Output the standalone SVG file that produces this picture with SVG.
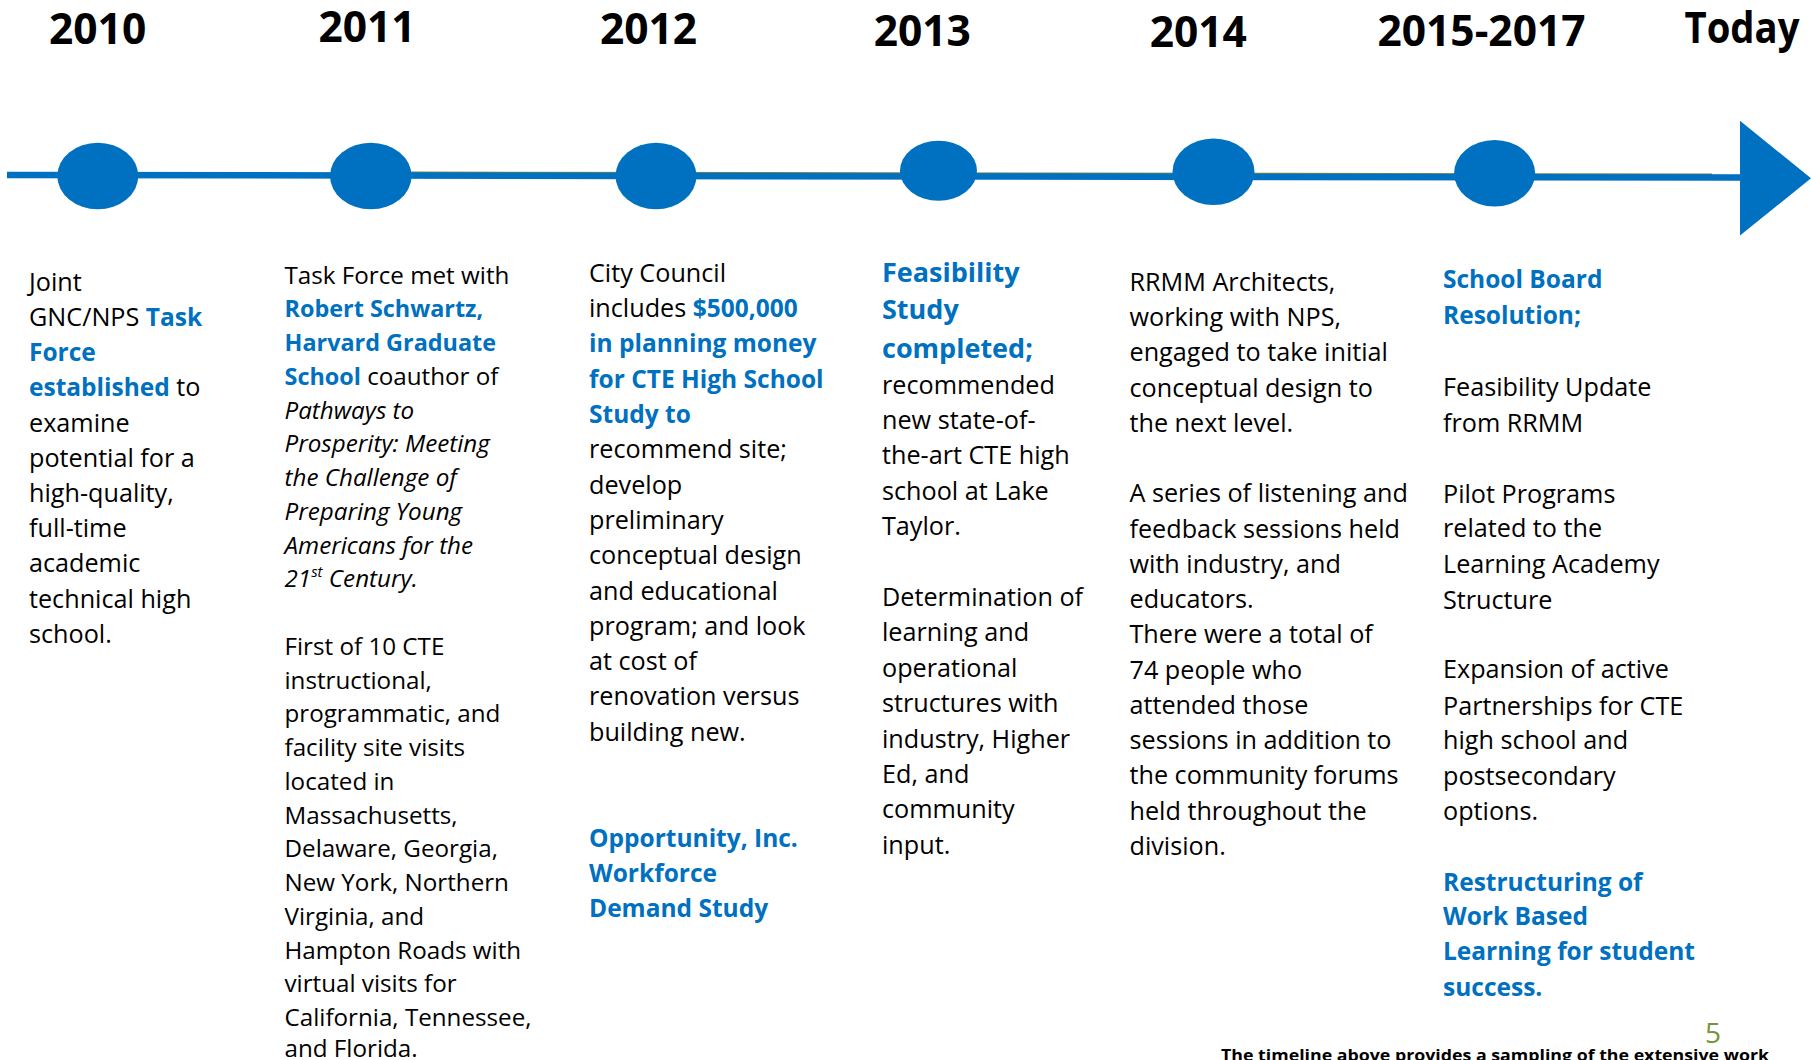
<svg xmlns="http://www.w3.org/2000/svg" width="1811" height="1060" viewBox="0 0 1811 1060">
<style>
text{font-family:"Open Sans","Noto Sans","DejaVu Sans",sans-serif;fill:#000;font-size:25.2px}
.yr{font-weight:700;font-size:42.5px;text-anchor:middle}
.b{font-weight:700;fill:#0070C0;font-size:24.5px}
.c11{font-size:24.2px}
.c11 .b{font-size:23.4px}
.i{font-style:italic}
.h{font-weight:700;fill:#0070C0;font-size:27px}
.dot{fill:#0070C0}
.ft{font-weight:700;font-size:16.6px}
.pg{fill:#77933C;font-size:28px}
</style>
<rect width="1811" height="1060" fill="#fff"/>
<g id="connectors">
<line x1="411" y1="172.4" x2="1712" y2="174.2" stroke="#76843F" stroke-width="1.6"/>
<line x1="7" y1="175" x2="1742" y2="177.6" stroke="#0070C0" stroke-width="6.5"/>
<polygon points="1740,120.7 1811,178.3 1740,235.6" fill="#0070C0"/>
</g>
<g id="m2010">
<ellipse class="dot" cx="97.8" cy="176" rx="40.5" ry="33.3"/>
<text class="yr" x="97.6" y="44">2010</text>
<text x="29" y="290.7">Joint</text>
<text x="29" y="325.9">GNC/NPS <tspan class="b">Task</tspan></text>
<text x="29" y="361.1"><tspan class="b">Force</tspan></text>
<text x="29" y="396.3"><tspan class="b">established</tspan> to</text>
<text x="29" y="431.5">examine</text>
<text x="29" y="466.7">potential for a</text>
<text x="29" y="501.9">high-quality,</text>
<text x="29" y="537.1">full-time</text>
<text x="29" y="572.3">academic</text>
<text x="29" y="607.5">technical high</text>
<text x="29" y="642.7">school.</text>
</g>
<g id="m2011" class="c11">
<ellipse class="dot" cx="370.8" cy="176" rx="40.8" ry="33.3"/>
<text class="yr" x="367" y="41.5">2011</text>
<text class="c11" x="284.5" y="283.6">Task Force met with</text>
<text class="c11" x="284.5" y="317.3"><tspan class="b">Robert Schwartz,</tspan></text>
<text class="c11" x="284.5" y="351"><tspan class="b">Harvard Graduate</tspan></text>
<text class="c11" x="284.5" y="384.8"><tspan class="b">School</tspan> coauthor of</text>
<text class="c11 i" x="284.5" y="418.5">Pathways to</text>
<text class="c11 i" x="284.5" y="452.3">Prosperity: Meeting</text>
<text class="c11 i" x="284.5" y="486">the Challenge of</text>
<text class="c11 i" x="284.5" y="519.8">Preparing Young</text>
<text class="c11 i" x="284.5" y="553.5">Americans for the</text>
<text class="c11 i" x="284.5" y="587.3">21<tspan font-size="15" dy="-10">st</tspan><tspan dy="10"> Century.</tspan></text>
<text class="c11" x="284.5" y="654.8">First of 10 CTE</text>
<text class="c11" x="284.5" y="688.5">instructional,</text>
<text class="c11" x="284.5" y="722.3">programmatic, and</text>
<text class="c11" x="284.5" y="756">facility site visits</text>
<text class="c11" x="284.5" y="789.8">located in</text>
<text class="c11" x="284.5" y="823.5">Massachusetts,</text>
<text class="c11" x="284.5" y="857.3">Delaware, Georgia,</text>
<text class="c11" x="284.5" y="891">New York, Northern</text>
<text class="c11" x="284.5" y="924.8">Virginia, and</text>
<text class="c11" x="284.5" y="958.5">Hampton Roads with</text>
<text class="c11" x="284.5" y="992.3">virtual visits for</text>
<text class="c11" x="284.5" y="1026">California, Tennessee,</text>
<text class="c11" x="284.5" y="1057">and Florida.</text>
</g>
<g id="m2012">
<ellipse class="dot" cx="656" cy="176" rx="40.5" ry="33.3"/>
<text class="yr" x="648.5" y="43.5">2012</text>
<text x="589" y="281.8">City Council</text>
<text x="589" y="317.1">includes <tspan class="b">$500,000</tspan></text>
<text x="589" y="352.4"><tspan class="b">in planning money</tspan></text>
<text x="589" y="387.7"><tspan class="b">for CTE High School</tspan></text>
<text x="589" y="423"><tspan class="b">Study to</tspan></text>
<text x="589" y="458.3">recommend site;</text>
<text x="589" y="493.6">develop</text>
<text x="589" y="528.9">preliminary</text>
<text x="589" y="564.2">conceptual design</text>
<text x="589" y="599.5">and educational</text>
<text x="589" y="634.8">program; and look</text>
<text x="589" y="670.1">at cost of</text>
<text x="589" y="705.4">renovation versus</text>
<text x="589" y="740.7">building new.</text>
<text x="589" y="846.6"><tspan class="b">Opportunity, Inc.</tspan></text>
<text x="589" y="881.9"><tspan class="b">Workforce</tspan></text>
<text x="589" y="917.2"><tspan class="b">Demand Study</tspan></text>
</g>
<g id="m2013">
<ellipse class="dot" cx="938.5" cy="170.7" rx="38.5" ry="30"/>
<text class="yr" x="922.3" y="46">2013</text>
<text class="h" x="882" y="281.7">Feasibility</text>
<text class="h" x="882" y="319.2">Study</text>
<text class="h" x="882" y="357.5">completed;</text>
<text x="882" y="393.5">recommended</text>
<text x="882" y="428.9">new state-of-</text>
<text x="882" y="464.3">the-art CTE high</text>
<text x="882" y="499.7">school at Lake</text>
<text x="882" y="535.1">Taylor.</text>
<text x="882" y="606">Determination of</text>
<text x="882" y="641.4">learning and</text>
<text x="882" y="676.8">operational</text>
<text x="882" y="712.2">structures with</text>
<text x="882" y="747.6">industry, Higher</text>
<text x="882" y="783">Ed, and</text>
<text x="882" y="818.4">community</text>
<text x="882" y="853.8">input.</text>
</g>
<g id="m2014">
<ellipse class="dot" cx="1213.5" cy="171.7" rx="41" ry="33.3"/>
<text class="yr" x="1198.3" y="46.5">2014</text>
<text x="1129.5" y="290.8">RRMM Architects,</text>
<text x="1129.5" y="326.05">working with NPS,</text>
<text x="1129.5" y="361.3">engaged to take initial</text>
<text x="1129.5" y="396.55">conceptual design to</text>
<text x="1129.5" y="431.8">the next level.</text>
<text x="1129.5" y="502.3">A series of listening and</text>
<text x="1129.5" y="537.55">feedback sessions held</text>
<text x="1129.5" y="572.8">with industry, and</text>
<text x="1129.5" y="608.05">educators.</text>
<text x="1129.5" y="643.3">There were a total of</text>
<text x="1129.5" y="678.55">74 people who</text>
<text x="1129.5" y="713.8">attended those</text>
<text x="1129.5" y="749.05">sessions in addition to</text>
<text x="1129.5" y="784.3">the community forums</text>
<text x="1129.5" y="819.55">held throughout the</text>
<text x="1129.5" y="854.8">division.</text>
</g>
<g id="m2015">
<ellipse class="dot" cx="1494.6" cy="173.3" rx="40.5" ry="33.3"/>
<text class="yr" x="1481.5" y="46">2015-2017</text>
<text x="1443" y="287.8"><tspan class="b">School Board</tspan></text>
<text x="1443" y="324.3"><tspan class="b">Resolution;</tspan></text>
<text x="1443" y="396.3">Feasibility Update</text>
<text x="1443" y="431.7">from RRMM</text>
<text x="1443" y="502.5">Pilot Programs</text>
<text x="1443" y="536.7">related to the</text>
<text x="1443" y="573.3">Learning Academy</text>
<text x="1443" y="608.7">Structure</text>
<text x="1443" y="678.3">Expansion of active</text>
<text x="1443" y="714.9">Partnerships for CTE</text>
<text x="1443" y="749.1">high school and</text>
<text x="1443" y="784.5">postsecondary</text>
<text x="1443" y="819.9">options.</text>
<text x="1443" y="890.7"><tspan class="b">Restructuring of</tspan></text>
<text x="1443" y="925"><tspan class="b">Work Based</tspan></text>
<text x="1443" y="960.4"><tspan class="b">Learning for student</tspan></text>
<text x="1443" y="995.8"><tspan class="b">success.</tspan></text>
</g>
<g id="today">
<text class="yr" x="1742" y="42.7" textLength="115" lengthAdjust="spacingAndGlyphs">Today</text>
</g>
<g id="footer">
<text class="pg" x="1705" y="1043">5</text>
<text class="ft" x="1221" y="1061" textLength="548" lengthAdjust="spacingAndGlyphs">The timeline above provides a sampling of the extensive work</text>
</g>
</svg>
